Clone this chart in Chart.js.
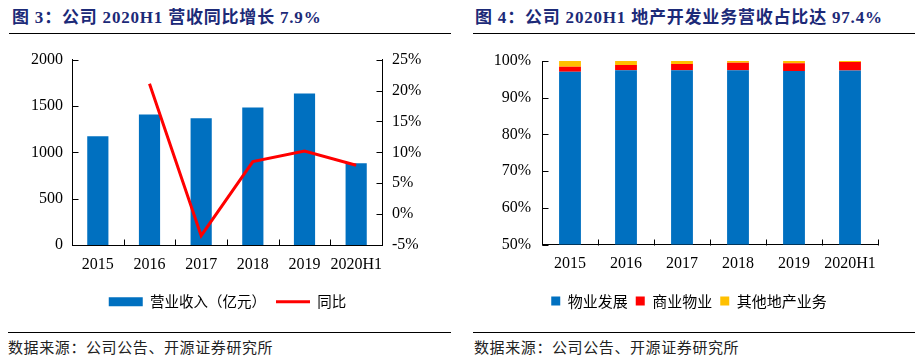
<!DOCTYPE html>
<html>
<head>
<meta charset="utf-8">
<script src="https://cdn.jsdelivr.net/npm/chart.js@4"></script>
<style>
  html, body { margin: 0; padding: 0; background: #fff; }
  #wrap { position: relative; width: 918px; height: 357px; overflow: hidden; background: #fff; }
  .title { position: absolute; top: 7px; font: bold 17px "Liberation Serif", "Noto Sans CJK SC", serif; color: #1c2a78; letter-spacing: 0.8px; white-space: nowrap; line-height: 22px; }
  .rule { position: absolute; height: 1px; background: #000; }
  .src { position: absolute; top: 337px; font: 15px "Noto Sans CJK SC", sans-serif; color: #222; letter-spacing: 0.6px; white-space: nowrap; line-height: 20px; }
  canvas { position: absolute; }
</style>
</head>
<body>
<div id="wrap">
  <div class="title" style="left:12px;">图 3：公司 2020H1 营收同比增长 7.9%</div>
  <div class="title" style="left:475px;">图 4：公司 2020H1 地产开发业务营收占比达 97.4%</div>
  <div class="rule" style="left:9px; width:442px; top:33px;"></div>
  <div class="rule" style="left:473px; width:442px; top:33px;"></div>
  <canvas id="c1" width="455" height="290" style="left:0px; top:40px;"></canvas>
  <canvas id="c2" width="458" height="290" style="left:460px; top:40px;"></canvas>
  <div class="rule" style="left:8px; width:443px; top:332px;"></div>
  <div class="rule" style="left:473px; width:442px; top:332px;"></div>
  <div class="src" style="left:8px;">数据来源：公司公告、开源证券研究所</div>
  <div class="src" style="left:474px;">数据来源：公司公告、开源证券研究所</div>
</div>
<script>
// ---- data ----
const categories = ['2015', '2016', '2017', '2018', '2019', '2020H1'];
const revenue = [1172, 1409, 1366, 1484, 1634, 882];
const yoy = [null, 21.1, -3.5, 8.5, 10.2, 7.9];
const revenueTicks = [0, 500, 1000, 1500, 2000];
const yoyTicks = [-5, 0, 5, 10, 15, 20, 25];

const shareProperty = [97.1, 97.5, 97.5, 97.5, 97.3, 97.4];
const shareCommercial = [1.3, 1.4, 1.7, 2.0, 2.1, 2.3];
const shareOther = [1.6, 1.1, 0.8, 0.5, 0.6, 0.3];
const shareTicks = [50, 60, 70, 80, 90, 100];

const labelRevenue = '营业收入（亿元）';
const labelYoy = '同比';
const labelProperty = '物业发展';
const labelCommercial = '商业物业';
const labelOther = '其他地产业务';

// ---- styles ----
const BLUE = '#0070C0', RED = '#FF0000', YELLOW = '#FFC000';
const serif = "'Liberation Serif', 'Times New Roman', serif";
const cjk = "'Noto Sans CJK SC', sans-serif";

const innerTicks = {
  id: 'innerTicks',
  afterDraw(chart) {
    const ctx = chart.ctx;
    ctx.save();
    ctx.strokeStyle = '#000';
    ctx.lineWidth = 1;
    ctx.beginPath();
    Object.values(chart.scales).forEach(s => {
      if (!s.options.border.display) return;
      if (s.axis === 'y') {
        const left = s.position === 'left';
        const x = Math.round(left ? s.right : s.left) + 0.5;
        const dir = left ? 1 : -1;
        s.ticks.forEach((t, i) => {
          const y = Math.round(s.getPixelForTick(i)) + 0.5;
          ctx.moveTo(x, y);
          ctx.lineTo(x + dir * 6, y);
        });
      } else {
        const n = s.ticks.length;
        const y = Math.round(s.top) + 0.5;
        for (let i = 0; i <= n; i++) {
          const x = Math.round(s.getPixelForValue(i - 0.5)) + 0.5;
          ctx.moveTo(x, y);
          ctx.lineTo(x, y - 6);
        }
      }
    });
    ctx.stroke();
    ctx.restore();
  }
};

function legendLabels(chart) {
  return chart.data.datasets.map((d, i) => ({
    text: d.label,
    fillStyle: d.backgroundColor,
    strokeStyle: d.borderColor || d.backgroundColor,
    lineWidth: d.type === 'line' ? 3 : 0,
    pointStyle: d.type === 'line' ? 'line' : 'rect',
    hidden: false,
    datasetIndex: i,
    fontColor: '#000'
  }));
}

// ---- chart 1 ----
new Chart(document.getElementById('c1'), {
  data: {
    labels: categories,
    datasets: [
      { type: 'line', label: labelYoy, data: yoy, yAxisID: 'y1', borderColor: RED, backgroundColor: RED,
        borderWidth: 3, pointRadius: 0, tension: 0, order: 0 },
      { type: 'bar', label: labelRevenue, data: revenue, yAxisID: 'y', backgroundColor: BLUE,
        borderWidth: 0, barPercentage: 0.41, categoryPercentage: 1, order: 1 }
    ]
  },
  options: {
    responsive: false, animation: false, devicePixelRatio: 1,
    layout: { padding: { top: 19, left: 0, right: 0, bottom: 11 } },
    plugins: {
      tooltip: { enabled: false },
      legend: {
        position: 'bottom',
        reverse: true,
        labels: {
          usePointStyle: true, pointStyleWidth: 34, boxHeight: 9, padding: 10,
          color: '#000', font: { family: cjk, size: 14.5 },
          generateLabels: legendLabels
        }
      }
    },
    scales: {
      x: {
        grid: { display: false, drawTicks: false },
        border: { display: true, color: '#000', width: 1 },
        ticks: { color: '#000', font: { family: serif, size: 16 }, padding: 10, maxRotation: 0, autoSkip: false },
        afterFit: s => { s.height = 39.5; }
      },
      y: {
        position: 'left', min: 0, max: 2000,
        afterBuildTicks: s => { s.ticks = revenueTicks.map(v => ({ value: v })); },
        grid: { display: false, drawTicks: false },
        border: { display: true, color: '#000', width: 1 },
        ticks: { color: '#000', font: { family: serif, size: 16 }, padding: 9, callback: v => String(v) },
        afterFit: s => { s.width = 72; }
      },
      y1: {
        position: 'right', min: -5, max: 25,
        afterBuildTicks: s => { s.ticks = yoyTicks.map(v => ({ value: v })); },
        grid: { display: false, drawTicks: false },
        border: { display: true, color: '#000', width: 1 },
        ticks: { color: '#000', font: { family: serif, size: 16 }, padding: 10, callback: v => v + '%' },
        afterFit: s => { s.width = 73; }
      }
    }
  },
  plugins: [innerTicks]
});

// ---- chart 2 ----
new Chart(document.getElementById('c2'), {
  type: 'bar',
  data: {
    labels: categories,
    datasets: [
      { label: labelProperty, data: shareProperty, backgroundColor: BLUE, borderWidth: 0 },
      { label: labelCommercial, data: shareCommercial, backgroundColor: RED, borderWidth: 0 },
      { label: labelOther, data: shareOther, backgroundColor: YELLOW, borderWidth: 0 }
    ]
  },
  options: {
    responsive: false, animation: false, devicePixelRatio: 1,
    datasets: { bar: { barPercentage: 0.39, categoryPercentage: 1 } },
    layout: { padding: { top: 21, left: 0, right: 0, bottom: 11.5 } },
    plugins: {
      tooltip: { enabled: false },
      legend: {
        position: 'bottom',
        labels: {
          usePointStyle: true, pointStyleWidth: 9, boxHeight: 9, padding: 8,
          color: '#000', font: { family: cjk, size: 15 },
          generateLabels: legendLabels
        }
      }
    },
    scales: {
      x: {
        stacked: true,
        grid: { display: false, drawTicks: false },
        border: { display: true, color: '#000', width: 1 },
        ticks: { color: '#000', font: { family: serif, size: 16 }, padding: 10, maxRotation: 0, autoSkip: false },
        afterFit: s => { s.height = 41; }
      },
      y: {
        stacked: true, min: 50, max: 100,
        afterBuildTicks: s => { s.ticks = shareTicks.map(v => ({ value: v })); },
        grid: { display: false, drawTicks: false },
        border: { display: true, color: '#000', width: 1 },
        ticks: { color: '#000', font: { family: serif, size: 16 }, padding: 11, callback: v => v + '%' },
        afterFit: s => { s.width = 82; }
      },
      ySpacer: {
        position: 'right', display: true,
        grid: { display: false, drawTicks: false },
        border: { display: false },
        ticks: { display: false },
        afterFit: s => { s.width = 40; }
      }
    }
  },
  plugins: [innerTicks]
});
</script>
</body>
</html>
